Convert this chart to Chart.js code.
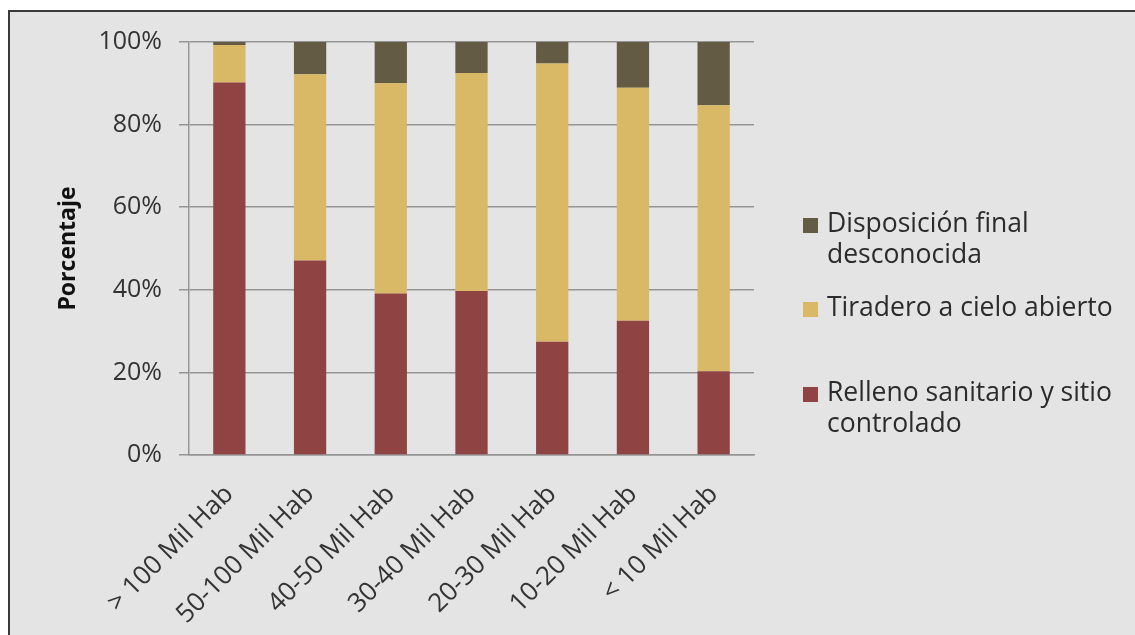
<!DOCTYPE html>
<html lang="es">
<head>
<meta charset="utf-8">
<title>Disposición final por tamaño de localidad</title>
<script src="https://cdn.jsdelivr.net/npm/chart.js@4.4.1/dist/chart.umd.min.js"></script>
<style>
  html, body { margin: 0; padding: 0; background: #fff; }
  body { width: 1135px; height: 635px; position: relative; overflow: hidden; font-family: 'Open Sans', sans-serif; }
  .frame { position: absolute; left: 8px; top: 10px; right: -10px; bottom: -10px;
           background: #e4e4e4; border-top: 2px solid #3a3a3a; border-left: 2px solid #3a3a3a; }
  .chart-box { position: absolute; left: 0; top: 0; width: 1135px; height: 635px; }
  .legend { position: absolute; left: 803px; top: 0; color: #2b2b2b; font-size: 26.5px; line-height: 31px; }
  .legend .item { position: absolute; left: 0; width: 330px; }
  .legend .swatch { position: absolute; left: 0; width: 15px; height: 15px; }
  .legend .label { position: absolute; left: 24px; white-space: nowrap; }
</style>
</head>
<body>
<div class="frame"></div>
<div class="chart-box"><canvas id="chart"></canvas></div>
<div class="legend" id="legend"></div>
<script>
'use strict';

/* ── Datos (porcentaje por tamaño de localidad) ── */
const CATEGORIES = ['> 100 Mil Hab', '50-100 Mil Hab', '40-50 Mil Hab', '30-40 Mil Hab', '20-30 Mil Hab', '10-20 Mil Hab', '< 10 Mil Hab'];
const RELLENO = [90.2, 47.1, 39.1, 39.7, 27.4, 32.5, 20.3];
const TIRADERO = [9.1, 45.1, 50.9, 52.8, 67.4, 56.4, 64.4];
const DESCONOCIDA = [0.7, 7.8, 10.0, 7.5, 5.2, 11.1, 15.3];
const Y_TICKS = [0, 20, 40, 60, 80, 100];

const SERIES = [
  { name: 'Relleno sanitario y sitio controlado', lines: ['Relleno sanitario y sitio', 'controlado'], data: RELLENO, color: '#8f4443' },
  { name: 'Tiradero a cielo abierto', lines: ['Tiradero a cielo abierto'], data: TIRADERO, color: '#d9b866' },
  { name: 'Disposición final desconocida', lines: ['Disposición final', 'desconocida'], data: DESCONOCIDA, color: '#635b43' },
];

const AXIS_GREY = '#959595';
const TEXT = '#333333';

/* ── Leyenda HTML (multilínea, orden invertido como en el original) ── */
(function renderLegend() {
  const tops = { 'Disposición final desconocida': 207, 'Tiradero a cielo abierto': 291, 'Relleno sanitario y sitio controlado': 376 };
  const el = document.getElementById('legend');
  el.innerHTML = [...SERIES].reverse().map(s => `
    <div class="item" style="top:${tops[s.name]}px">
      <span class="swatch" style="background:${s.color};top:11px"></span>
      <span class="label">${s.lines.join('<br>')}</span>
    </div>`).join('');
})();

/* ── Gráfico de barras apiladas ── */
(function renderChart() {
  const ctx = document.getElementById('chart').getContext('2d');
  new Chart(ctx, {
    type: 'bar',
    data: {
      labels: CATEGORIES,
      datasets: SERIES.map(s => ({
        label: s.name,
        data: s.data,
        backgroundColor: s.color,
        borderWidth: 0,
        categoryPercentage: 0.8,
        barPercentage: 0.5,
      })),
    },
    options: {
      responsive: true,
      maintainAspectRatio: false,
      animation: false,
      layout: { padding: { left: 50, top: 42, right: 381, bottom: 0 } },
      plugins: {
        legend: { display: false },
        tooltip: { enabled: false },
      },
      scales: {
        x: {
          stacked: true,
          grid: { display: false, drawTicks: false },
          border: { display: true, color: AXIS_GREY, width: 1.5 },
          ticks: {
            color: TEXT,
            font: { family: "'Open Sans', sans-serif", size: 26 },
            maxRotation: 45,
            minRotation: 45,
            padding: 24,
            labelOffset: 0,
          },
          afterFit: s => { s.height = 180; },
        },
        y: {
          stacked: true,
          min: 0,
          max: 100,
          afterBuildTicks: s => { s.ticks = Y_TICKS.map(v => ({ value: v })); },
          grid: { color: AXIS_GREY, lineWidth: 1.5, tickLength: 10 },
          border: { display: true, color: AXIS_GREY, width: 1.5 },
          ticks: {
            color: TEXT,
            font: { family: "'Open Sans', sans-serif", size: 25 },
            padding: 17,
            callback: v => v + '%',
          },
          title: {
            display: true,
            text: 'Porcentaje',
            color: '#111',
            font: { family: "'Open Sans', sans-serif", size: 23, weight: 'bold' },
            padding: { top: 5, bottom: 4 },
          },
          afterFit: s => { s.width = 139; },
        },
      },
    },
  });
})();
</script>
</body>
</html>
